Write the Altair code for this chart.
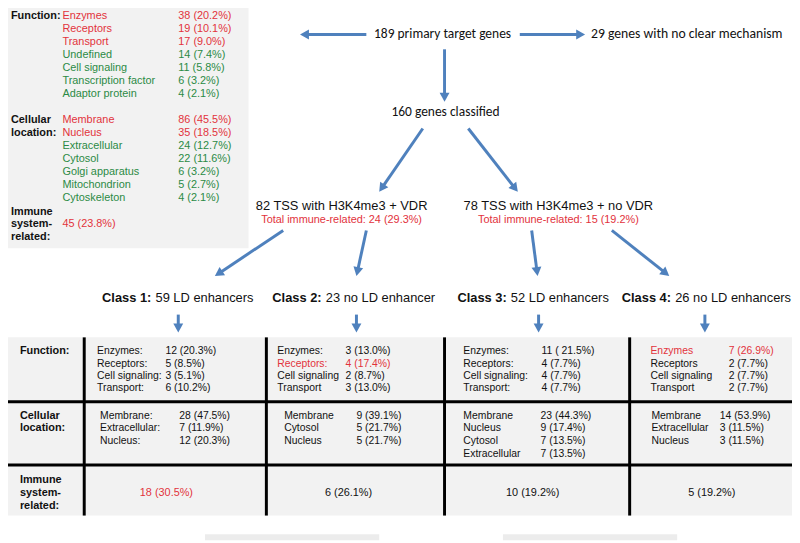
import math
import altair as alt
import pandas as pd

# ---------------- data ----------------
box_function_labels = ["Enzymes", "Receptors", "Transport", "Undefined", "Cell signaling",
                       "Transcription factor", "Adaptor protein"]
box_function_values = ["38 (20.2%)", "19 (10.1%)", "17 (9.0%)", "14 (7.4%)", "11 (5.8%)",
                       "6 (3.2%)", "4 (2.1%)"]
box_function_highlight = [True, True, True, False, False, False, False]
box_location_labels = ["Membrane", "Nucleus", "Extracellular", "Cytosol", "Golgi apparatus",
                       "Mitochondrion", "Cytoskeleton"]
box_location_values = ["86 (45.5%)", "35 (18.5%)", "24 (12.7%)", "22 (11.6%)", "6 (3.2%)",
                       "5 (2.7%)", "4 (2.1%)"]
box_location_highlight = [True, True, False, False, False, False, False]
box_immune_value = "45 (23.8%)"

top_node = "189 primary target genes"
side_node = "29 genes with no clear mechanism"
mid_node = "160 genes classified"
tss_nodes = ["82 TSS with H3K4me3 + VDR", "78 TSS with H3K4me3 + no VDR"]
tss_immune = ["Total immune-related: 24 (29.3%)", "Total immune-related: 15 (19.2%)"]
class_bold = ["Class 1:", "Class 2:", "Class 3:", "Class 4:"]
class_rest = ["59 LD enhancers", "23 no LD enhancer", "52 LD enhancers", "26 no LD enhancers"]

func_labels = [
    ["Enzymes:", "Receptors:", "Cell signaling:", "Transport:"],
    ["Enzymes:", "Receptors:", "Cell signaling", "Transport"],
    ["Enzymes:", "Receptors:", "Cell signaling:", "Transport:"],
    ["Enzymes", "Receptors", "Cell signaling", "Transport"],
]
func_values = [
    ["12 (20.3%)", "5 (8.5%)", "3 (5.1%)", "6 (10.2%)"],
    ["3 (13.0%)", "4 (17.4%)", "2 (8.7%)", "3 (13.0%)"],
    ["11 ( 21.5%)", "4 (7.7%)", "4 (7.7%)", "4 (7.7%)"],
    ["7 (26.9%)", "2 (7.7%)", "2 (7.7%)", "2 (7.7%)"],
]
func_highlight = [
    [False, False, False, False],
    [False, True, False, False],
    [False, False, False, False],
    [True, False, False, False],
]
loc_labels = [
    ["Membrane:", "Extracellular:", "Nucleus:"],
    ["Membrane", "Cytosol", "Nucleus"],
    ["Membrane", "Nucleus", "Cytosol", "Extracellular"],
    ["Membrane", "Extracellular", "Nucleus"],
]
loc_values = [
    ["28 (47.5%)", "7 (11.9%)", "12 (20.3%)"],
    ["9 (39.1%)", "5 (21.7%)", "5 (21.7%)"],
    ["23 (44.3%)", "9 (17.4%)", "7 (13.5%)", "7 (13.5%)"],
    ["14 (53.9%)", "3 (11.5%)", "3 (11.5%)"],
]
immune_values = ["18 (30.5%)", "6 (26.1%)", "10 (19.2%)", "5 (19.2%)"]
immune_highlight = [True, False, False, False]

# ---------------- style ----------------
RED = "#e2323c"
GREEN = "#2b8a45"
BLACK = "#111111"
BLUE = "#4f81bd"
PANEL = "#f2f2f2"
ARIAL = "Liberation Sans, Arial, sans-serif"
CALIBRI = "Carlito, Lato, sans-serif"

# ---------------- layout (pixel positions of the page) ----------------
BOX = (2, 251, 3, 248)
BOX_HEAD_X, BOX_LABEL_X, BOX_VALUE_X = 11, 63, 180
BOX_FUNC_Y0, BOX_LOC_Y0, BOX_STEP = 13, 118, 13.2
BOX_IMM_Y = [211, 224, 237]

TOP_XY = (447, 32)
SIDE_XY = (597, 32)
MID_XY = (450, 110)
TSS_X = [345, 564]
TSS_Y, TSS_SUB_Y = 205, 219
CLASS_X = [103, 275, 462, 628]
CLASS_Y = 298
CLASS_GAP = 54

arrows = [  # (tail x, tail y, head x, head y)
    (370, 32, 303, 32), (525, 32, 591, 32), (449, 47, 449, 100),
    (427, 127, 383, 191), (473, 127, 523, 191),
    (286, 230, 217, 276), (370, 230, 360, 276), (537, 230, 543, 276), (618, 230, 676, 276),
    (180, 315, 180, 333), (360, 315, 360, 333), (544, 315, 544, 333), (712, 315, 712, 333),
]

TABLE = (3, 800, 338, 518)
VLINES = [85, 269, 449, 636]
HLINES = [403, 467]
HEAD_X = 20
FUNC_Y = [352, 364.5, 377, 389.5]
FUNC_LX = [98, 280, 468, 657]
FUNC_VX = [167, 349, 547, 736]
LOC_Y = [417, 430, 443, 456]
LOC_LX = [101, 287, 468, 658]
LOC_VX = [181, 360, 546, 727]
IMM_X = [168, 352, 538, 719]
IMM_Y = 495
FAINT = [(207, 383, 537, 543), (508, 684, 537, 543)]

# ---------------- scales ----------------
xs = alt.Scale(domain=[8, 800], range=[0, 792], nice=False, zero=False)
ys = alt.Scale(domain=[8, 543], range=[0, 535], nice=False, zero=False)


def text_layer(rows, font, size, weight="normal", align="left"):
    df = pd.DataFrame(rows, columns=["x", "y", "t", "c"])
    return alt.Chart(df).mark_text(
        font=font, fontSize=size, fontWeight=weight, align=align, baseline="middle"
    ).encode(
        x=alt.X("x:Q", scale=xs, axis=None),
        y=alt.Y("y:Q", scale=ys, axis=None),
        text=alt.Text("t:N"),
        color=alt.Color("c:N", scale=None),
    )


def rect_layer(rows):
    df = pd.DataFrame(rows, columns=["x", "x2", "y", "y2", "c"])
    return alt.Chart(df).mark_rect(strokeWidth=0).encode(
        x=alt.X("x:Q", scale=xs, axis=None), x2="x2:Q",
        y=alt.Y("y:Q", scale=ys, axis=None), y2="y2:Q",
        color=alt.Color("c:N", scale=None),
    )


def rule_layer(rows, color, width):
    df = pd.DataFrame(rows, columns=["x", "y", "x2", "y2"])
    return alt.Chart(df).mark_rule(color=color, strokeWidth=width, strokeCap="butt").encode(
        x=alt.X("x:Q", scale=xs, axis=None), x2="x2:Q",
        y=alt.Y("y:Q", scale=ys, axis=None), y2="y2:Q",
    )


layers = []

# panels
layers.append(rect_layer([
    (BOX[0], BOX[1], BOX[2], BOX[3], PANEL),
    (TABLE[0], TABLE[1], TABLE[2], TABLE[3], PANEL),
] + [(a, b, c, d, "#ececec") for a, b, c, d in FAINT]))

# box text
box_bold = [(BOX_HEAD_X, BOX_FUNC_Y0, "Function:", BLACK),
            (BOX_HEAD_X, BOX_LOC_Y0, "Cellular", BLACK),
            (BOX_HEAD_X, BOX_LOC_Y0 + BOX_STEP, "location:", BLACK),
            (BOX_HEAD_X, BOX_IMM_Y[0], "Immune", BLACK),
            (BOX_HEAD_X, BOX_IMM_Y[1], "system-", BLACK),
            (BOX_HEAD_X, BOX_IMM_Y[2], "related:", BLACK)]
layers.append(text_layer(box_bold, ARIAL, 11, "bold"))
box_rows = []
for i, (lab, val, hl) in enumerate(zip(box_function_labels, box_function_values, box_function_highlight)):
    y = BOX_FUNC_Y0 + i * BOX_STEP
    box_rows += [(BOX_LABEL_X, y, lab, RED if hl else GREEN), (BOX_VALUE_X, y, val, RED if hl else GREEN)]
for i, (lab, val, hl) in enumerate(zip(box_location_labels, box_location_values, box_location_highlight)):
    y = BOX_LOC_Y0 + i * BOX_STEP
    box_rows += [(BOX_LABEL_X, y, lab, RED if hl else GREEN), (BOX_VALUE_X, y, val, RED if hl else GREEN)]
box_rows.append((BOX_LABEL_X, BOX_IMM_Y[1], box_immune_value, RED))
layers.append(text_layer(box_rows, ARIAL, 11))

# flow nodes
layers.append(text_layer([(TOP_XY[0], TOP_XY[1], top_node, BLACK),
                          (MID_XY[0], MID_XY[1], mid_node, BLACK)], CALIBRI, 13.6, align="center"))
layers.append(text_layer([(SIDE_XY[0], SIDE_XY[1], side_node, BLACK)], CALIBRI, 13.8))
layers.append(text_layer([(x, TSS_Y, t, BLACK) for x, t in zip(TSS_X, tss_nodes)], ARIAL, 13, align="center"))
layers.append(text_layer([(x, TSS_SUB_Y, t, RED) for x, t in zip(TSS_X, tss_immune)], ARIAL, 11, align="center"))
layers.append(text_layer([(x, CLASS_Y, t, BLACK) for x, t in zip(CLASS_X, class_bold)], ARIAL, 13, "bold"))
layers.append(text_layer([(x + CLASS_GAP, CLASS_Y, t, BLACK) for x, t in zip(CLASS_X, class_rest)], ARIAL, 13))

# arrows
shafts, heads = [], []
for tx, ty, hx, hy in arrows:
    dx, dy = hx - tx, hy - ty
    L = math.hypot(dx, dy)
    ux, uy = dx / L, dy / L
    shafts.append((tx, ty, hx - ux * 7, hy - uy * 7))
    ang = (math.degrees(math.atan2(dx, -dy)) + 360) % 360
    heads.append((hx, hy, ang))
layers.append(rule_layer(shafts, BLUE, 3))
heads_df = pd.DataFrame(heads, columns=["x", "y", "a"])
layers.append(alt.Chart(heads_df).mark_point(
    shape="M0,0L1,1.8L-1,1.8Z", filled=True, opacity=1, color=BLUE, size=100, strokeWidth=0
).encode(
    x=alt.X("x:Q", scale=xs, axis=None),
    y=alt.Y("y:Q", scale=ys, axis=None),
    angle=alt.Angle("a:Q", scale=None),
))

# table lines
lines = [(x, TABLE[2], x, TABLE[3]) for x in VLINES] + [(TABLE[0], y, TABLE[1], y) for y in HLINES]
layers.append(rule_layer(lines, "#000000", 3))

# table text
heads_rows = [(HEAD_X, FUNC_Y[0], "Function:", BLACK),
              (HEAD_X, LOC_Y[0], "Cellular", BLACK), (HEAD_X, LOC_Y[1], "location:", BLACK),
              (HEAD_X, 482, "Immune", BLACK), (HEAD_X, 495, "system-", BLACK), (HEAD_X, 508, "related:", BLACK)]
layers.append(text_layer(heads_rows, ARIAL, 11, "bold"))
cell_rows = []
for k in range(4):
    for i, (lab, val) in enumerate(zip(func_labels[k], func_values[k])):
        c = RED if func_highlight[k][i] else BLACK
        cell_rows += [(FUNC_LX[k], FUNC_Y[i], lab, c), (FUNC_VX[k], FUNC_Y[i], val, c)]
    for i, (lab, val) in enumerate(zip(loc_labels[k], loc_values[k])):
        cell_rows += [(LOC_LX[k], LOC_Y[i], lab, BLACK), (LOC_VX[k], LOC_Y[i], val, BLACK)]
layers.append(text_layer(cell_rows, ARIAL, 10.5))
layers.append(text_layer([(x, IMM_Y, v, RED if h else BLACK)
                          for x, v, h in zip(IMM_X, immune_values, immune_highlight)],
                         ARIAL, 11, align="center"))

chart = alt.layer(*layers).properties(
    width=792, height=535, padding=0, autosize=alt.AutoSizeParams(type="none"),
    background="white",
).configure_view(strokeWidth=0)

chart.save("out.html", embed_options={"renderer": "svg", "actions": False})
